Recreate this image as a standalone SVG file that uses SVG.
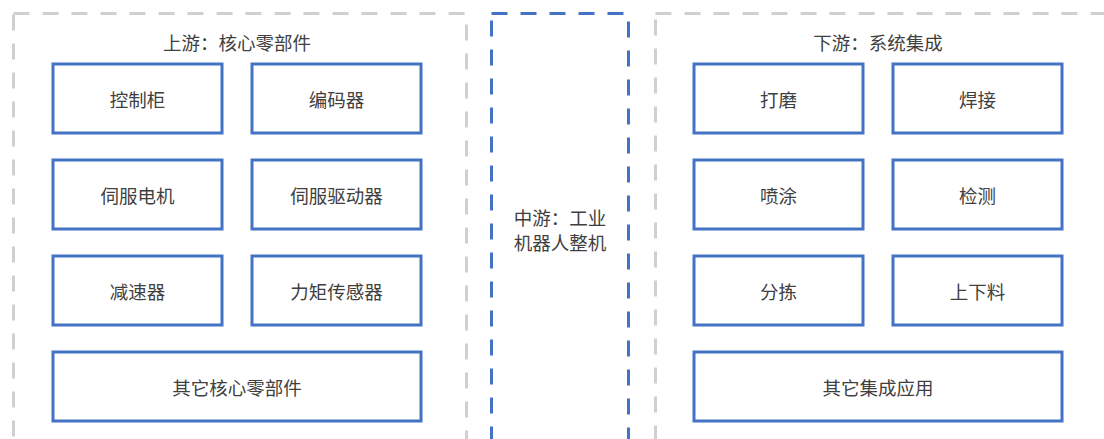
<svg xmlns="http://www.w3.org/2000/svg" width="1104" height="439" viewBox="0 0 1104 439">
<style>
.grp{fill:none;stroke:#d0d0d0;stroke-width:3;stroke-dasharray:16 13}
.mid{fill:none;stroke:#4472c4;stroke-width:3;stroke-dasharray:16 13}
.node rect{fill:#fff;stroke:#4472c4;stroke-width:3}
text{font-family:"Noto Sans CJK SC","Noto Sans",sans-serif;font-size:18.5px;fill:#404040;text-anchor:middle;dominant-baseline:central}
</style>
<rect width="1104" height="439" fill="#fff"/>
<g id="upstream">
<rect class="grp" x="13.5" y="13.5" width="453" height="440"/>
<text x="237" y="42">上游：核心零部件</text>
</g>
<g id="midstream">
<rect class="mid" x="491.5" y="13.5" width="137" height="440"/>
<text x="560" y="217">中游：工业</text>
<text x="560" y="242">机器人整机</text>
</g>
<g id="downstream">
<rect class="grp" x="655.5" y="13.5" width="470" height="440"/>
<text x="878" y="42">下游：系统集成</text>
</g>
<g id="n1" class="node"><rect x="53" y="64" width="169" height="69"/><text x="137.5" y="98.5">控制柜</text></g>
<g id="n2" class="node"><rect x="252" y="64" width="169" height="69"/><text x="336.5" y="98.5">编码器</text></g>
<g id="n3" class="node"><rect x="53" y="160" width="169" height="69"/><text x="137.5" y="194.5">伺服电机</text></g>
<g id="n4" class="node"><rect x="252" y="160" width="169" height="69"/><text x="336.5" y="194.5">伺服驱动器</text></g>
<g id="n5" class="node"><rect x="53" y="256" width="169" height="69"/><text x="137.5" y="290.5">减速器</text></g>
<g id="n6" class="node"><rect x="252" y="256" width="169" height="69"/><text x="336.5" y="290.5">力矩传感器</text></g>
<g id="n7" class="node"><rect x="53" y="352" width="368" height="69"/><text x="237" y="386.5">其它核心零部件</text></g>
<g id="m1" class="node"><rect x="694" y="64" width="169" height="69"/><text x="778.5" y="98.5">打磨</text></g>
<g id="m2" class="node"><rect x="893" y="64" width="169" height="69"/><text x="977.5" y="98.5">焊接</text></g>
<g id="m3" class="node"><rect x="694" y="160" width="169" height="69"/><text x="778.5" y="194.5">喷涂</text></g>
<g id="m4" class="node"><rect x="893" y="160" width="169" height="69"/><text x="977.5" y="194.5">检测</text></g>
<g id="m5" class="node"><rect x="694" y="256" width="169" height="69"/><text x="778.5" y="290.5">分拣</text></g>
<g id="m6" class="node"><rect x="893" y="256" width="169" height="69"/><text x="977.5" y="290.5">上下料</text></g>
<g id="m7" class="node"><rect x="694" y="352" width="368" height="69"/><text x="878" y="386.5">其它集成应用</text></g>
<g id="connectors"/>
</svg>
